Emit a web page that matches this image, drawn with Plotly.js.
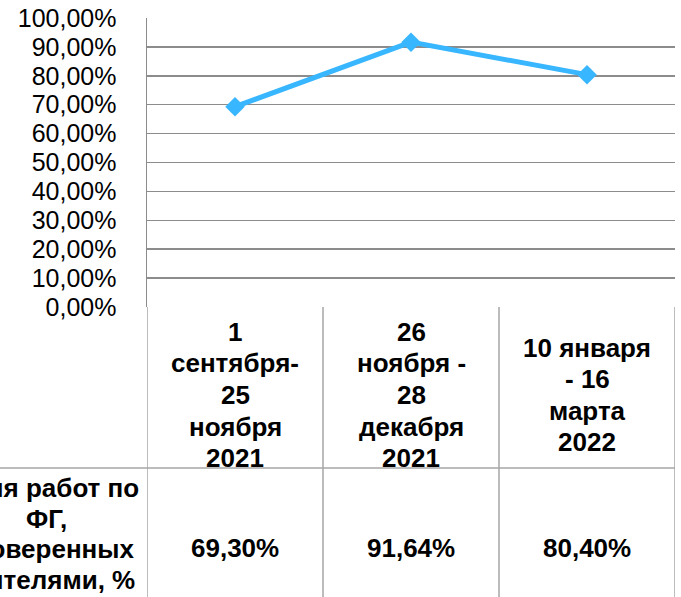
<!DOCTYPE html>
<html>
<head>
<meta charset="utf-8">
<script src="https://cdn.plot.ly/plotly-3.0.1.min.js"></script>
<style>html,body{margin:0;padding:0;background:#fff;overflow:hidden}#chart{width:681px;height:597px}</style>
</head>
<body>
<div id="chart"></div>
<script>
const categories = ["1<br>сентября-<br>25<br>ноября<br>2021", "26<br>ноября -<br>28<br>декабря<br>2021", "10 января<br>- 16<br>марта<br>2022"];
const values = [0.693, 0.9164, 0.804];
const seriesName = "Доля работ по<br>ФГ,<br>проверенных<br>учителями, %";
const yTicks = [0, 0.1, 0.2, 0.3, 0.4, 0.5, 0.6, 0.7, 0.8, 0.9, 1.0];

const xIdx = categories.map((c, i) => i);
const FONT = "Liberation Sans, Arial, sans-serif";
const gridCol = "#8c8c8c";
const tblCol = "#a6a6a6";

function fmtPct(v) { return (v * 100).toFixed(2).replace('.', ',') + '%'; }

const trace = {
  type: 'scatter', mode: 'lines+markers',
  x: xIdx, y: values,
  line: {color: '#38b6ff', width: 5},
  marker: {symbol: 'diamond', size: 15, color: '#38b6ff'},
  cliponaxis: false,
  hoverinfo: 'skip'
};

// plot area in pixels: left 147, right 675, top 18, bottom 307
const plotH = 289, plotW = 528;
const py = y => (307 - y) / plotH;   // pixel y -> paper y
const px = x => (x - 147) / plotW;   // pixel x -> paper x

const shapes = [];
const lineStyle = {color: tblCol, width: 1.5};
[-0.5, 0.5, 1.5, 2.5].forEach((xv) => {
  shapes.push({type: 'line', xref: 'x', yref: 'paper', x0: xv, x1: xv,
    y0: 0, y1: py(600), line: lineStyle});
});
shapes.push({type: 'line', xref: 'paper', yref: 'paper', x0: px(-5), x1: 1, y0: py(468), y1: py(468), line: lineStyle});

const annotations = [];
const bold = {family: FONT, size: 26, color: '#000'};
// multi-line cell text with Excel-like tight line spacing
function cellText(xref, x, centerY, text, spacing) {
  const lines = text.split('<br>');
  const n = lines.length;
  lines.forEach((ln, k) => {
    annotations.push({xref: xref, yref: 'paper', x: x, y: py(centerY + (k - (n - 1) / 2) * spacing),
      text: '<b>' + ln + '</b>', showarrow: false, xanchor: 'center', yanchor: 'middle', font: bold});
  });
}
categories.forEach((c, i) => {
  cellText('x', i, 395, c, 31.6);
  cellText('x', i, 548, fmtPct(values[i]), 31);
});
cellText('paper', px(46), 534, seriesName, 30.8);

const layout = {
  width: 681, height: 597,
  margin: {l: 147, r: 6, t: 18, b: 290, pad: 0},
  paper_bgcolor: '#fff', plot_bgcolor: '#fff',
  separators: ', ',
  showlegend: false,
  xaxis: {type: 'linear', range: [-0.5, 2.5], showgrid: false, zeroline: false,
    showticklabels: false, ticks: '', showline: false, fixedrange: true},
  yaxis: {range: [0, 1], tickvals: yTicks, tickformat: '.2%', showgrid: true,
    gridcolor: gridCol, gridwidth: 1.5, zeroline: false, showline: true,
    linecolor: gridCol, linewidth: 1.5, ticks: '', ticklabelstandoff: 24,
    tickfont: {family: FONT, size: 25, color: '#000'}, fixedrange: true},
  shapes: shapes,
  annotations: annotations
};

Plotly.newPlot('chart', [trace], layout, {displayModeBar: false, staticPlot: true});
</script>
</body>
</html>
